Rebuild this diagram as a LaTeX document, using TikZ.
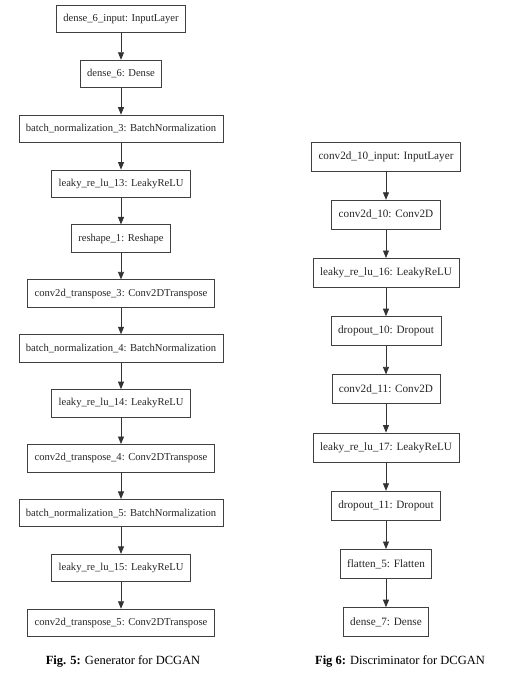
\documentclass[tikz,border=0pt]{standalone}
\usepackage{fontspec}
\setmainfont{Liberation Serif}
\usetikzlibrary{arrows.meta, positioning}

\begin{document}
\begin{tikzpicture}[
    x=1pt, y=1pt,
    % Define node styles
    layer/.style={rectangle, draw=black!75, line width=0.8pt, inner xsep=7pt,
                  minimum height=27.5pt, align=center, fill=white, text=black!85,
                  font=\fontsize{10.6}{12}\selectfont},
    dlayer/.style={layer, minimum height=29pt, font=\fontsize{11.2}{13}\selectfont},
    flow/.style={-{Triangle[length=7.5pt, width=6pt]}, draw=black!80, line width=0.8pt},
    caption/.style={font=\fontsize{12.5}{15}\selectfont}
]
    \useasboundingbox (0,0) rectangle (508,-678);

    % Generator column
    \node[layer] (ginput) at (121,-19) {dense\_6\_input: InputLayer};
    \node[layer, below=26.6pt of ginput] (gdense) {dense\_6: Dense};
    \node[layer, below=26.6pt of gdense] (gbnorm3) {batch\_normalization\_3: BatchNormalization};
    \node[layer, below=26.6pt of gbnorm3] (gleaky13) {leaky\_re\_lu\_13: LeakyReLU};
    \node[layer, below=26.6pt of gleaky13] (greshape) {reshape\_1: Reshape};
    \node[layer, below=26.6pt of greshape] (gconvt3) {conv2d\_transpose\_3: Conv2DTranspose};
    \node[layer, below=26.6pt of gconvt3] (gbnorm4) {batch\_normalization\_4: BatchNormalization};
    \node[layer, below=26.6pt of gbnorm4] (gleaky14) {leaky\_re\_lu\_14: LeakyReLU};
    \node[layer, below=26.6pt of gleaky14] (gconvt4) {conv2d\_transpose\_4: Conv2DTranspose};
    \node[layer, below=26.6pt of gconvt4] (gbnorm5) {batch\_normalization\_5: BatchNormalization};
    \node[layer, below=26.6pt of gbnorm5] (gleaky15) {leaky\_re\_lu\_15: LeakyReLU};
    \node[layer, below=26.6pt of gleaky15] (gconvt5) {conv2d\_transpose\_5: Conv2DTranspose};

    % Discriminator column
    \node[dlayer] (dinput) at (386,-156.5) {conv2d\_10\_input: InputLayer};
    \node[dlayer, below=28.4pt of dinput] (dconv10) {conv2d\_10: Conv2D};
    \node[dlayer, below=28.4pt of dconv10] (dleaky16) {leaky\_re\_lu\_16: LeakyReLU};
    \node[dlayer, below=28.4pt of dleaky16] (ddrop10) {dropout\_10: Dropout};
    \node[dlayer, below=28.4pt of ddrop10] (dconv11) {conv2d\_11: Conv2D};
    \node[dlayer, below=28.4pt of dconv11] (dleaky17) {leaky\_re\_lu\_17: LeakyReLU};
    \node[dlayer, below=28.4pt of dleaky17] (ddrop11) {dropout\_11: Dropout};
    \node[dlayer, below=28.4pt of ddrop11] (dflatten) {flatten\_5: Flatten};
    \node[dlayer, below=28.4pt of dflatten] (ddense) {dense\_7: Dense};

    % Captions
    \node[caption] (gcaption) at (123,-661) {\textbf{Fig. 5:} Generator for DCGAN};
    \node[caption] (dcaption) at (400,-661) {\textbf{Fig 6:} Discriminator for DCGAN};

    % Draw arrows between nodes
    \draw[flow] (ginput) -- (gdense);
    \draw[flow] (gdense) -- (gbnorm3);
    \draw[flow] (gbnorm3) -- (gleaky13);
    \draw[flow] (gleaky13) -- (greshape);
    \draw[flow] (greshape) -- (gconvt3);
    \draw[flow] (gconvt3) -- (gbnorm4);
    \draw[flow] (gbnorm4) -- (gleaky14);
    \draw[flow] (gleaky14) -- (gconvt4);
    \draw[flow] (gconvt4) -- (gbnorm5);
    \draw[flow] (gbnorm5) -- (gleaky15);
    \draw[flow] (gleaky15) -- (gconvt5);

    \draw[flow] (dinput) -- (dconv10);
    \draw[flow] (dconv10) -- (dleaky16);
    \draw[flow] (dleaky16) -- (ddrop10);
    \draw[flow] (ddrop10) -- (dconv11);
    \draw[flow] (dconv11) -- (dleaky17);
    \draw[flow] (dleaky17) -- (ddrop11);
    \draw[flow] (ddrop11) -- (dflatten);
    \draw[flow] (dflatten) -- (ddense);
\end{tikzpicture}
\end{document}
